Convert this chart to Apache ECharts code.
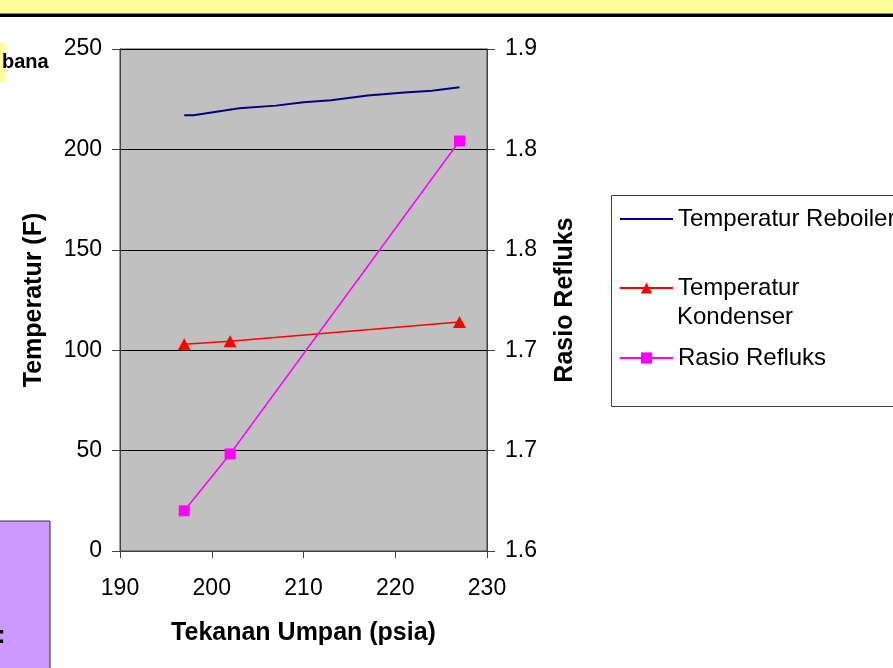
<!DOCTYPE html>
<html><head><meta charset="utf-8">
<script src="https://cdn.jsdelivr.net/npm/echarts@6/dist/echarts.min.js"></script>
<style>html,body{margin:0;padding:0;background:#fff;overflow:hidden}#c{width:893px;height:668px}</style>
</head><body><div id="c"></div>
<script>
// Data
const reboilerX = [197, 198, 203, 207, 210, 213, 217, 221, 224, 227];
const reboilerY = [217, 217, 220.5, 221.8, 223.5, 224.5, 226.8, 228.3, 229.2, 231];
const kondenserX = [197, 202, 227];
const kondenserY = [103, 104.5, 114];
const refluksX = [197, 202, 227];
const refluksY = [1.624, 1.658, 1.845];
const seriesNames = ['Temperatur Reboiler', 'Temperatur Kondenser', 'Rasio Refluks'];
const xRange = [190, 230, 10];
const leftRange = [0, 250, 50];
const rightRange = [1.6, 1.9];

const FONT = "'Liberation Sans', Arial, sans-serif";
const pair = (xs, ys) => xs.map((x, i) => [x, ys[i]]);

const chart = echarts.init(document.getElementById('c'), null, {renderer: 'canvas'});
const legendText = {fontSize: 24, color: '#000', fontFamily: FONT};
const baseLegend = {
  orient: 'vertical', left: 619, padding: 0, itemGap: 0,
  itemWidth: 53, itemHeight: 14, selectedMode: false,
  textStyle: legendText
};
chart.setOption({
  animation: false,
  textStyle: {fontFamily: FONT},
  grid: {left: 120, right: 406, top: 49, bottom: 117, show: true,
         backgroundColor: '#C0C0C0', borderColor: '#404040', borderWidth: 1},
  graphic: [
    {type: 'rect', shape: {x: 0, y: 0, width: 893, height: 13}, style: {fill: '#FFFF99'}, z: 0},
    {type: 'rect', shape: {x: 0, y: 13, width: 893, height: 1}, style: {fill: '#8a8a60'}, z: 0},
    {type: 'rect', shape: {x: 0, y: 14, width: 893, height: 3}, style: {fill: '#000'}, z: 0},
    {type: 'rect', shape: {x: 0, y: 43, width: 5, height: 39}, style: {fill: '#FFFF99'}, z: 0},
    {type: 'text', left: 2, top: 52, style: {text: 'bana', font: "bold 20px 'Liberation Sans', Arial", fill: '#000'}, z: 1},
    {type: 'rect', shape: {x: -2, y: 521, width: 52, height: 160}, style: {fill: '#CC99FF', stroke: '#333', lineWidth: 1}, z: 0},
    {type: 'text', left: -3, top: 623, style: {text: ':', font: "bold 26px 'Liberation Sans', Arial", fill: '#000'}, z: 1},
    {type: 'rect', shape: {x: 611.5, y: 195.5, width: 300, height: 211}, style: {fill: '#fff', stroke: '#404040', lineWidth: 1}, z: 0},
    {type: 'text', left: 677, top: 305, style: {text: 'Kondenser', font: "24px 'Liberation Sans', Arial", fill: '#000'}, z: 5}
  ],
  legend: [
    Object.assign({}, baseLegend, {data: [seriesNames[0]], top: 207, itemStyle: {opacity: 0}}),
    Object.assign({}, baseLegend, {data: [seriesNames[1]], top: 276,
      formatter: () => 'Temperatur'}),
    Object.assign({}, baseLegend, {data: [seriesNames[2]], top: 346})
  ],
  xAxis: {
    type: 'value', min: xRange[0], max: xRange[1], interval: xRange[2],
    name: 'Tekanan Umpan (psia)', nameLocation: 'middle', nameGap: 70,
    nameTextStyle: {fontSize: 25, fontWeight: 'bold', color: '#000', fontFamily: FONT},
    axisLine: {lineStyle: {color: '#404040', width: 1}},
    axisTick: {show: true, length: 7, lineStyle: {color: '#404040'}},
    axisLabel: {fontSize: 23, color: '#000', margin: 26, fontFamily: FONT},
    splitLine: {show: false}
  },
  yAxis: [
    {
      type: 'value', min: leftRange[0], max: leftRange[1], interval: leftRange[2],
      name: 'Temperatur (F)', nameLocation: 'middle', nameGap: 73,
      nameTextStyle: {fontSize: 25, fontWeight: 'bold', color: '#000', fontFamily: FONT},
      axisLine: {show: true, lineStyle: {color: '#404040', width: 1}},
      axisTick: {show: true, length: 8, lineStyle: {color: '#404040'}},
      axisLabel: {fontSize: 23, color: '#000', margin: 18, fontFamily: FONT},
      splitLine: {show: true, lineStyle: {color: '#000', width: 1}}
    },
    {
      type: 'value', position: 'right', min: rightRange[0], max: rightRange[1], alignTicks: true,
      name: 'Rasio Refluks', nameLocation: 'middle', nameGap: 66,
      nameTextStyle: {fontSize: 25, fontWeight: 'bold', color: '#000', fontFamily: FONT},
      axisLine: {show: true, lineStyle: {color: '#404040', width: 1}},
      axisTick: {show: true, length: 8, lineStyle: {color: '#404040'}},
      axisLabel: {fontSize: 23, color: '#000', margin: 18, fontFamily: FONT,
                  formatter: v => Number(v).toFixed(1)},
      splitLine: {show: false}
    }
  ],
  series: [
    {name: seriesNames[0], type: 'line', yAxisIndex: 0, data: pair(reboilerX, reboilerY),
     symbol: 'none', lineStyle: {color: '#000080', width: 2}, itemStyle: {color: '#000080'}},
    {name: seriesNames[1], type: 'line', yAxisIndex: 0, data: pair(kondenserX, kondenserY),
     symbol: 'triangle', symbolSize: [13, 12], lineStyle: {color: '#FF0000', width: 1.5},
     itemStyle: {color: '#FF0000'}},
    {name: seriesNames[2], type: 'line', yAxisIndex: 1, data: pair(refluksX, refluksY),
     symbol: 'rect', symbolSize: 11, lineStyle: {color: '#FF00FF', width: 1.5},
     itemStyle: {color: '#FF00FF'}}
  ]
});
</script>
</body></html>
